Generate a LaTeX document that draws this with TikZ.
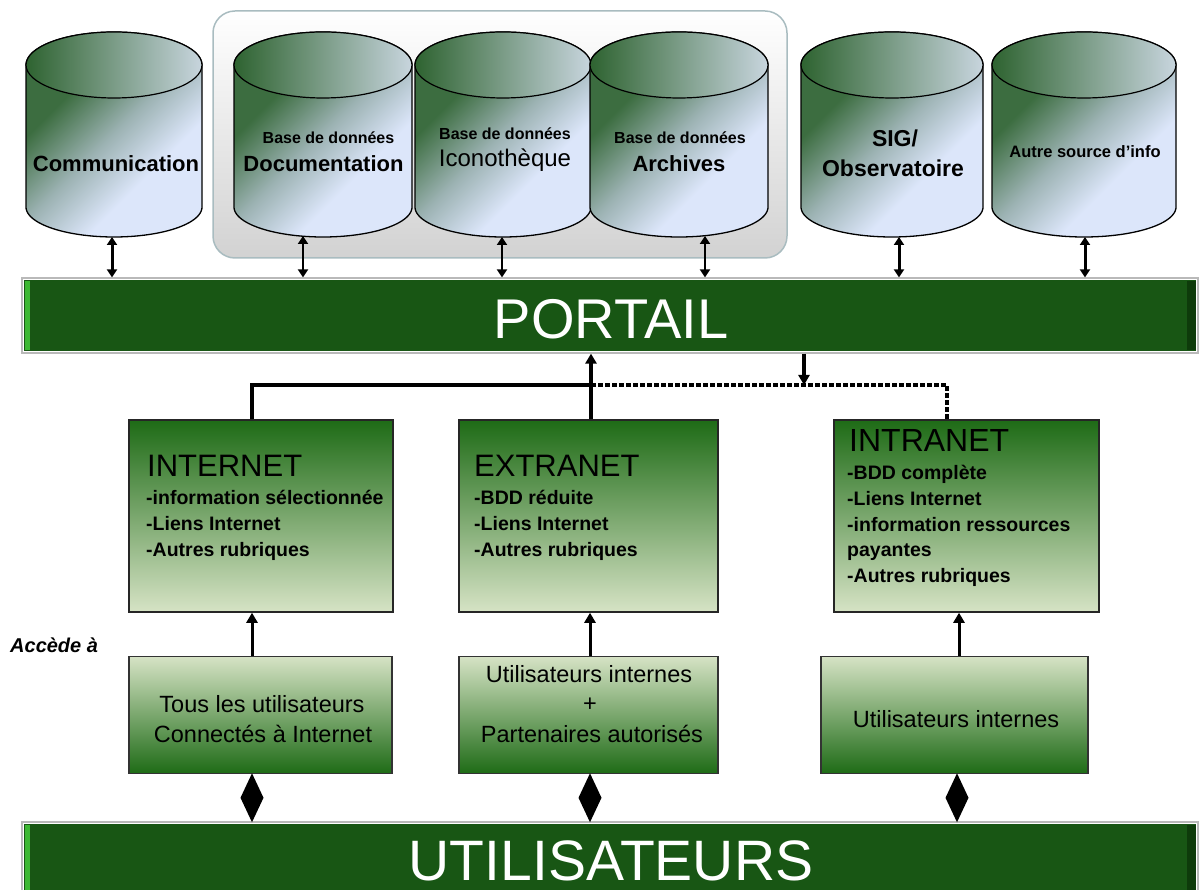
\documentclass[tikz,border=0pt]{standalone}
\usepackage{fontspec}
\setmainfont{Liberation Sans}
\usetikzlibrary{arrows.meta,shapes.geometric,calc}

\definecolor{barGreen}{HTML}{185614}
\definecolor{barLight}{HTML}{3CB832}
\definecolor{barDark}{HTML}{0E3B0B}
\definecolor{boxDark}{HTML}{1E6B16}
\definecolor{boxMid}{HTML}{92B673}
\definecolor{boxLight}{HTML}{D6E3C5}
\definecolor{cylGreen}{HTML}{3C6D40}
\definecolor{cylMid}{HTML}{9DB3B4}
\definecolor{cylLight}{HTML}{DCE6FA}
\definecolor{topGreen}{HTML}{2E6330}
\definecolor{topLight}{HTML}{C8D5DE}
\definecolor{grpGray}{HTML}{D2D2D2}
\definecolor{grpBorder}{HTML}{A9BCC0}

\pgfdeclareverticalshading{cylshade}{100bp}{color(0bp)=(cylLight); color(36bp)=(cylLight); color(50bp)=(cylMid); color(66bp)=(cylGreen); color(100bp)=(cylGreen)}

\newcommand{\fsz}[1]{\fontsize{#1}{#1}\selectfont}
\newcommand{\dbcyl}[2]{%
  \shadedraw[cylbody] ({#1-#2},65) -- ({#1-#2},207)
    -- plot[domain=180:0,samples=60] ({#1+#2*cos(\x)},{207+30*sin(\x)})
    -- ({#1+#2},65)
    -- plot[domain=0:-180,samples=60] ({#1+#2*cos(\x)},{65+33*sin(\x)}) -- cycle;
  \shadedraw[cyltop] (#1,65) ellipse [x radius=#2, y radius=33];
}

\tikzset{
  cylbody/.style={draw=black, line width=1.3, shading=cylshade, shading angle=45},
  cyltop/.style={draw=black, line width=1.2, left color=topGreen, right color=topLight},
  groupbox/.style={draw=grpBorder, line width=1.5, rounded corners=22pt, top color=white, bottom color=grpGray, inner sep=0},
  bar/.style={draw=gray!55, line width=1.2, fill=barGreen, inner sep=0,
    path picture={
      \fill[barLight] ([xshift=3pt,yshift=-3pt]path picture bounding box.north west) rectangle ([xshift=8pt,yshift=3pt]path picture bounding box.south west);
      \fill[barDark] ([xshift=-11pt,yshift=-3pt]path picture bounding box.north east) rectangle ([xshift=-2pt,yshift=3pt]path picture bounding box.south east);
      \draw[white, line width=1.2] ([shift={(1.8pt,-1.8pt)}]path picture bounding box.north west) rectangle ([shift={(-1.8pt,1.8pt)}]path picture bounding box.south east);
    }},
  bartxt/.style={anchor=base, inner sep=0, text=white, font=\fsz{56}},
  upbox/.style={draw=black!85, line width=1.5, top color=boxDark, middle color=boxMid, bottom color=boxLight, inner sep=0, minimum height=192},
  lowbox/.style={draw=black!80, line width=1.3, top color=boxLight, middle color=boxMid, bottom color=boxDark, inner sep=0, minimum height=117},
  boxtitle/.style={anchor=base west, inner sep=0, font=\fsz{31}},
  bullet/.style={anchor=base west, inner sep=0, font=\bfseries\fsz{19.5}},
  lowtxt/.style={anchor=base, inner sep=0, font=\fsz{23.5}},
  cylbig/.style={anchor=base, inner sep=0, font=\bfseries\fsz{22}},
  cylsmall/.style={anchor=base, inner sep=0, font=\bfseries\fsz{16}},
  dblarrow/.style={line width=#1, {Triangle[width=10pt,length=8pt]}-{Triangle[width=10pt,length=8pt]}},
  dblarrow/.default=2,
  link/.style={line width=3.8},
  uptip/.style={-{Triangle[width=11pt,length=10pt]}},
  dotlink/.style={line width=4, dash pattern=on 5pt off 2pt},
  diam/.style={diamond, fill=black, inner sep=0, outer sep=0, minimum width=23, minimum height=49}
}

\begin{document}
\begin{tikzpicture}[x=1pt,y=-1pt]
\useasboundingbox (0,0) rectangle (1203,890);

% group of databases
\node[groupbox, minimum width=574, minimum height=247] (grp) at (500,134.5) {};

% cylinders
\dbcyl{114}{88}
\dbcyl{323}{89}
\dbcyl{503}{88}
\dbcyl{679}{89}
\dbcyl{892}{91}
\dbcyl{1084}{92}

\coordinate (cCom) at (112,237);
\coordinate (cDoc) at (303,236);
\coordinate (cIco) at (502,237);
\coordinate (cArc) at (705,236);
\coordinate (cSig) at (899,237);
\coordinate (cAut) at (1085,237);

% cylinder labels
\node[cylbig] (tCom) at (116,172) {Communication};
\node[cylsmall] (tDoc1) at (328.5,144) {Base de données};
\node[cylbig] (tDoc2) at (323.5,172) {Documentation};
\node[cylsmall] (tIco1) at (505,140) {Base de données};
\node[anchor=base, inner sep=0, font=\fsz{24}] (tIco2) at (505,167) {Iconothèque};
\node[cylsmall] (tArc1) at (680,144) {Base de données};
\node[cylbig] (tArc2) at (679,172) {Archives};
\node[anchor=base, inner sep=0, font=\bfseries\fsz{23}] (tSig1) at (895,147) {SIG/};
\node[anchor=base, inner sep=0, font=\bfseries\fsz{23}] (tSig2) at (893,177) {Observatoire};
\node[anchor=base, inner sep=0, font=\bfseries\fsz{16.5}] (tAut) at (1085,158) {Autre source d’info};

% bars
\node[bar, minimum width=1176, minimum height=75] (portail) at (610,315.5) {};
\node[bartxt] (portailtxt) at (611,339) {PORTAIL};
\node[bar, minimum width=1176, minimum height=74] (users) at (610,859) {};
\node[bartxt, font=\fsz{57}] (userstxt) at (611,880) {UTILISATEURS};

% cylinder <-> portail arrows
\draw[dblarrow=3] (cCom) -- (cCom |- portail.north);
\draw[dblarrow=2] (cDoc) -- (cDoc |- portail.north);
\draw[dblarrow=2] (cIco) -- (cIco |- portail.north);
\draw[dblarrow=2] (cArc) -- (cArc |- portail.north);
\draw[dblarrow=3] (cSig) -- (cSig |- portail.north);
\draw[dblarrow=3] (cAut) -- (cAut |- portail.north);

% upper boxes
\node[upbox, minimum width=264] (inet) at (261,516) {};
\node[upbox, minimum width=259] (extra) at (588.5,516) {};
\node[upbox, minimum width=265] (intra) at (966.5,516) {};

\node[boxtitle] (inetT) at (147,477) {INTERNET};
\node[bullet] (inet1) at (146,505) {-information sélectionnée};
\node[bullet] (inet2) at (146,530) {-Liens Internet};
\node[bullet] (inet3) at (146,557) {-Autres rubriques};

\node[boxtitle] (extraT) at (474,477) {EXTRANET};
\node[bullet] (extra1) at (474,505) {-BDD réduite};
\node[bullet] (extra2) at (474,530) {-Liens Internet};
\node[bullet] (extra3) at (474,557) {-Autres rubriques};

\node[boxtitle, font=\fsz{32}] (intraT) at (849,452) {INTRANET};
\node[bullet] (intra1) at (847,480) {-BDD complète};
\node[bullet] (intra2) at (847,506) {-Liens Internet};
\node[bullet] (intra3) at (847,532) {-information ressources};
\node[bullet] (intra4) at (847,557) {payantes};
\node[bullet] (intra5) at (847,583) {-Autres rubriques};

% lower boxes
\node[lowbox, minimum width=263] (lowL) at (260.5,715) {};
\node[lowbox, minimum width=259] (lowM) at (588.5,715) {};
\node[lowbox, minimum width=267] (lowR) at (954.5,715) {};

\node[lowtxt] (lowL1) at (262,712) {Tous les utilisateurs};
\node[lowtxt] (lowL2) at (263,742) {Connectés à Internet};
\node[lowtxt] (lowM1) at (589,682) {Utilisateurs internes};
\node[lowtxt] (lowM2) at (590,711) {+};
\node[lowtxt] (lowM3) at (592,742) {Partenaires autorisés};
\node[lowtxt] (lowR1) at (956,727) {Utilisateurs internes};

\node[anchor=base west, inner sep=0, font=\bfseries\itshape\fsz{20}] (acc) at (10,652) {Accède à};

% portail <-> access boxes
\coordinate (jn) at (591,385);
\draw[link] ([xshift=-9pt]inet.north) |- (jn);
\draw[link, uptip] ([xshift=2.5pt]extra.north) -- ([xshift=2.5pt]extra.north |- portail.south);
\draw[dotlink] (jn) -| ([xshift=-20pt]intra.north);
\draw[link, uptip] ([xshift=194pt]portail.south) -- ([xshift=194pt]portail.south |- jn);

% lower -> upper arrows
\draw[line width=3, uptip] ([xshift=-8.5pt]lowL.north) -- ([xshift=-8.5pt]lowL.north |- inet.south);
\draw[line width=3, uptip] ([xshift=1.5pt]lowM.north) -- ([xshift=1.5pt]lowM.north |- extra.south);
\draw[line width=3, uptip] ([xshift=4.5pt]lowR.north) -- ([xshift=4.5pt]lowR.north |- intra.south);

% diamonds between lower boxes and users bar
\path ([xshift=-8.5pt]lowL.south) -- ([xshift=-8.5pt]lowL.south |- users.north) node[midway, diam] (dL) {};
\path ([xshift=1.5pt]lowM.south) -- ([xshift=1.5pt]lowM.south |- users.north) node[midway, diam] (dM) {};
\path ([xshift=2.5pt]lowR.south) -- ([xshift=2.5pt]lowR.south |- users.north) node[midway, diam] (dR) {};
\end{tikzpicture}
\end{document}
